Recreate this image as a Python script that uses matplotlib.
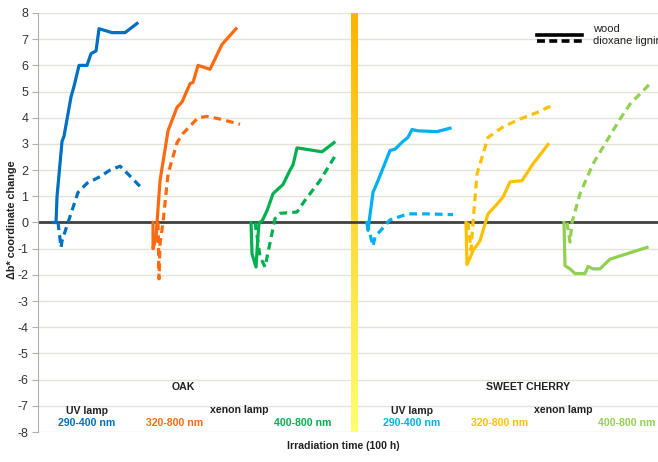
import numpy as np
import matplotlib.pyplot as plt
from matplotlib.colors import LinearSegmentedColormap

plt.rcParams['font.family'] = ['Liberation Sans', 'DejaVu Sans']
plt.rcParams['axes.unicode_minus'] = False

# Oak, UV lamp 290-400 nm
oak_uv_wood_x = [1.5, 1.8, 1.9, 2.4, 2.6, 3.3, 3.6, 4.1, 4.9, 5.3, 5.8, 6.1, 7.4, 8.7, 9.9]
oak_uv_wood_y = [0, 0, 1.0, 3.1, 3.3, 4.8, 5.2, 6.0, 6.0, 6.45, 6.55, 7.4, 7.25, 7.25, 7.6]
oak_uv_lig_x = [2.0, 2.3, 2.4, 3.0, 4.0, 4.9, 6.2, 7.2, 8.2, 9.0, 10.4]
oak_uv_lig_y = [0, -0.95, -0.7, 0, 1.15, 1.5, 1.75, 2.0, 2.15, 1.85, 1.3]

# Oak, xenon lamp 320-800 nm
oak_x320_wood_x = [11.5, 11.5, 11.8, 11.9, 12.2, 13.0, 13.9, 14.4, 15.2, 15.5, 16.0, 17.2, 18.4, 19.8]
oak_x320_wood_y = [0, -1.0, -0.6, 0, 1.6, 3.5, 4.4, 4.6, 5.3, 5.35, 6.0, 5.85, 6.8, 7.4]
oak_x320_lig_x = [12.0, 12.1, 12.2, 12.5, 13.0, 13.9, 14.5, 16.0, 16.9, 18.2, 20.2]
oak_x320_lig_y = [0, -2.15, -0.8, 0, 1.85, 3.05, 3.4, 4.0, 4.05, 3.95, 3.75]

# Oak, xenon lamp 400-800 nm
oak_x400_wood_x = [21.3, 21.4, 21.8, 22.0, 22.1, 22.4, 22.9, 23.5, 24.5, 25.2, 25.5, 25.9, 28.4, 29.6]
oak_x400_wood_y = [0, -1.2, -1.7, -0.5, 0, 0.05, 0.45, 1.1, 1.45, 2.0, 2.2, 2.85, 2.7, 3.05]
oak_x400_lig_x = [21.7, 22.2, 22.7, 23.7, 24.2, 25.9, 26.7, 28.2, 29.8]
oak_x400_lig_y = [0, -1.3, -1.7, 0.15, 0.35, 0.4, 0.85, 1.6, 2.6]

# Sweet cherry, UV lamp 290-400 nm
ch_uv_wood_x = [32.9, 33.0, 33.2, 33.5, 34.0, 35.2, 35.7, 36.5, 37.0, 37.4, 38.0, 39.9, 41.2]
ch_uv_wood_y = [0, -0.3, 0.3, 1.15, 1.6, 2.75, 2.8, 3.1, 3.25, 3.55, 3.5, 3.47, 3.6]
ch_uv_lig_x = [32.9, 33.5, 33.7, 35.2, 37.0, 38.9, 41.5]
ch_uv_lig_y = [0, -0.9, -0.55, 0.1, 0.33, 0.33, 0.3]

# Sweet cherry, xenon lamp 320-800 nm
ch_x320_wood_x = [42.8, 42.9, 43.1, 43.5, 44.2, 45.0, 45.9, 46.5, 47.2, 48.4, 49.5, 51.0]
ch_x320_wood_y = [0, -1.6, -1.45, -1.07, -0.7, 0.33, 0.7, 0.97, 1.55, 1.6, 2.24, 2.98]
ch_x320_lig_x = [43.0, 43.3, 43.5, 43.9, 45.0, 46.5, 48.2, 49.9, 51.4]
ch_x320_lig_y = [0, -1.05, 0, 1.85, 3.25, 3.65, 3.95, 4.2, 4.47]

# Sweet cherry, xenon lamp 400-800 nm
ch_x400_wood_x = [52.6, 52.7, 53.2, 53.7, 54.7, 55.0, 55.5, 56.2, 57.2, 60.9]
ch_x400_wood_y = [0, -1.65, -1.77, -1.95, -1.95, -1.68, -1.77, -1.77, -1.4, -0.95]
ch_x400_lig_x = [52.9, 53.2, 53.4, 54.2, 55.5, 56.9, 58.2, 59.2, 61.2]
ch_x400_lig_y = [0, -0.75, 0, 1.1, 2.24, 3.13, 3.95, 4.52, 5.3]

series = [
    (oak_uv_wood_x, oak_uv_wood_y, oak_uv_lig_x, oak_uv_lig_y, '#0070C0'),
    (oak_x320_wood_x, oak_x320_wood_y, oak_x320_lig_x, oak_x320_lig_y, '#FF6A10'),
    (oak_x400_wood_x, oak_x400_wood_y, oak_x400_lig_x, oak_x400_lig_y, '#00B050'),
    (ch_uv_wood_x, ch_uv_wood_y, ch_uv_lig_x, ch_uv_lig_y, '#00B0F0'),
    (ch_x320_wood_x, ch_x320_wood_y, ch_x320_lig_x, ch_x320_lig_y, '#FFC000'),
    (ch_x400_wood_x, ch_x400_wood_y, ch_x400_lig_x, ch_x400_lig_y, '#92D050'),
]

fig = plt.figure(figsize=(6.58, 4.62), dpi=100)
ax = fig.add_axes([0.0578, 0.0649, 0.9422, 0.907])

ax.set_xlim(0, 62)
ax.set_ylim(-8, 8)
ax.set_yticks(range(-8, 9))
ax.set_xticks([])
for y in range(-8, 9):
    ax.axhline(y, color='#E4E4D6', lw=1, zorder=0)
for s in ['top', 'right', 'bottom']:
    ax.spines[s].set_visible(False)
ax.spines['left'].set_color('#B0B0B0')
ax.tick_params(axis='y', length=4, color='#B0B0B0', labelsize=9, labelcolor='#333333', pad=3)

# yellow divider between the two wood species
grad = np.linspace(1, 0, 256).reshape(-1, 1)
cmap = LinearSegmentedColormap.from_list('bar', ['#FFFF70', '#FFB400'])
ax.imshow(grad, cmap=cmap, aspect='auto', extent=(31.3, 31.95, -8, 8), origin='upper', zorder=1)

ax.axhline(0, color='#404040', lw=2, zorder=2)

for wx, wy, lx, ly, c in series:
    ax.plot(wx, wy, color=c, lw=2.3, solid_joinstyle='round', zorder=3)
    ax.plot(lx, ly, color=c, lw=2.3, dashes=(2.4, 1.6), zorder=3)

# legend
ax.plot([0.805, 0.877], [0.947, 0.947], color='black', lw=2.6, transform=ax.transAxes, clip_on=False)
ax.plot([0.805, 0.877], [0.933, 0.933], color='black', lw=2.6, dashes=(2.2, 1.2),
        transform=ax.transAxes, clip_on=False)
ax.text(0.895, 0.962, 'wood', fontsize=8, transform=ax.transAxes, va='center', color='#222222')
ax.text(0.895, 0.934, 'dioxane lignin', fontsize=8, transform=ax.transAxes, va='center', color='#222222')

# group labels
bold = dict(fontsize=7.6, fontweight='bold', ha='center', va='center')
ax.text(14.5, -6.3, 'OAK', color='#222222', **bold)
ax.text(49.0, -6.3, 'SWEET CHERRY', color='#222222', **bold)
ax.text(4.9, -7.2, 'UV lamp', color='#222222', **bold)
ax.text(20.1, -7.15, 'xenon lamp', color='#222222', **bold)
ax.text(37.4, -7.2, 'UV lamp', color='#222222', **bold)
ax.text(52.5, -7.15, 'xenon lamp', color='#222222', **bold)
ax.text(4.9, -7.67, '290-400 nm', color='#0070C0', **bold)
ax.text(13.7, -7.67, '320-800 nm', color='#FF6A10', **bold)
ax.text(26.5, -7.67, '400-800 nm', color='#00B050', **bold)
ax.text(37.4, -7.67, '290-400 nm', color='#00B0F0', **bold)
ax.text(46.2, -7.67, '320-800 nm', color='#FFC000', **bold)
ax.text(58.9, -7.67, '400-800 nm', color='#92D050', **bold)

fig.text(0.521, 0.035, 'Irradiation time (100 h)', fontsize=7.6, fontweight='bold',
         ha='center', va='center', color='#222222')
fig.text(0.018, 0.525, 'Δb* coordinate change', fontsize=7.8, fontweight='bold',
         ha='center', va='center', rotation=90, color='#222222')

fig.savefig('out.png', dpi=100)
